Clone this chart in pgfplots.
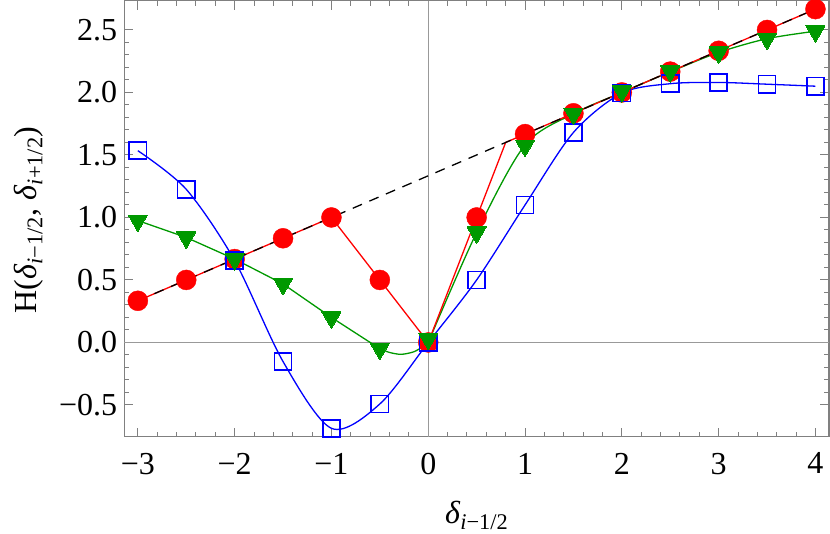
\documentclass[border=0pt]{standalone}
\usepackage{pgfplots}
\pgfplotsset{compat=1.18}
\usepackage[no-math]{fontspec}
\setmainfont{Liberation Serif}
\definecolor{mgreen}{rgb}{0,0.6,0}
\definecolor{framegray}{gray}{0.5}
\definecolor{axgray}{gray}{0.6}
\newcommand{\bigfont}{\fontsize{32bp}{38bp}\selectfont}
\begin{document}
\bigfont
\begin{tikzpicture}
\useasboundingbox (0,0) rectangle (830bp,534bp);
\begin{axis}[
  at={(124.3bp,97.3bp)}, anchor=south west,
  scale only axis, width=704.7bp, height=436bp,
  xmin=-3.14, xmax=4.14, ymin=-0.754, ymax=2.734,
  axis line style={framegray, line width=1.2bp},
  tick style={framegray, line width=1bp},
  major tick length=9bp, minor tick length=5bp,
  tick align=inside, tick pos=both, ticklabel pos=left,
  xtick={-3,-2,-1,0,1,2,3,4},
  xticklabels={−3,−2,−1,0,1,2,3,4},
  minor x tick num=4,
  ytick={-0.5,0,0.5,1,1.5,2,2.5},
  yticklabels={−0.5,0.0,0.5,1.0,1.5,2.0,2.5},
  minor y tick num=4,
  tick label style={font=\bigfont, text=black},
  xticklabel style={inner sep=0pt, anchor=north, yshift=-16bp},
  yticklabel style={inner sep=0pt, anchor=east, xshift=-7bp},
  /pgf/number format/assume math mode=true,
  clip=false,
]
\draw[axgray, line width=1.2bp] (axis cs:0,-0.754) -- (axis cs:0,2.734);
\draw[axgray, line width=1.2bp] (axis cs:-3.14,0) -- (axis cs:4.14,0);
% blue line
\addplot[blue, line width=1.3bp, smooth, mark=none] coordinates {
(-3,1.534) (-2.5,1.225) (-2,0.655) (-1.5,-0.153) (-1,-0.687) (-0.5,-0.492) (0,0)
(0.5,0.5) (1,1.10) (1.5,1.68) (2,1.995) (2.5,2.07) (3,2.08) (3.5,2.066) (4,2.05)};
% green line
\addplot[mgreen, line width=1.3bp, mark=none] coordinates {
(-3,0.975) (-2.5,0.84) (-2,0.667) (-1.5,0.468) (-1,0.2) (-0.5,-0.05)};
\addplot[mgreen, line width=1.3bp, smooth, mark=none] coordinates {
(-0.5,-0.05) (-0.4,-0.08) (-0.28,-0.095) (-0.15,-0.075) (-0.06,-0.035) (0,0)};
\addplot[mgreen, line width=1.3bp, smooth, mark=none] coordinates {
(0,0) (0.5,0.88) (1,1.58) (1.5,1.83) (2,2.0) (2.5,2.165) (3,2.32) (3.5,2.43) (4,2.49)};
% red line
\addplot[red, line width=1.3bp, mark=none] coordinates {
(-3,0.3333) (-1,1) (0,0) (0.8,1.6) (4,2.6667)};
% black dashed
\addplot[black, line width=1.3bp, dash pattern=on 10bp off 8bp, mark=none] coordinates {
(-3,0.3333) (4,2.6667)};
% markers
\addplot[only marks, mark=*, mark size=10bp, red, mark options={draw=red, fill=red}] coordinates {
(-3,0.3333) (-2.5,0.5) (-2,0.6667) (-1.5,0.8333) (-1,1) (-0.5,0.5) (0,0)
(0.5,1) (1,1.6667) (1.5,1.8333) (2,2) (2.5,2.1667) (3,2.3333) (3.5,2.5) (4,2.6667)};
\addplot[only marks, mark=square, mark size=8.6bp, blue, mark options={line width=1.6bp}] coordinates {
(-3,1.534) (-2.5,1.225) (-2,0.655) (-1.5,-0.153) (-1,-0.687) (-0.5,-0.492) (0,0)
(0.5,0.5) (1,1.10) (1.5,1.68) (2,1.995) (2.5,2.07) (3,2.08) (3.5,2.066) (4,2.05)};
\addplot[only marks, mark=triangle*, mark size=11bp, mgreen, mark options={rotate=180, draw=mgreen, fill=mgreen, line width=0pt}] coordinates {
(-3,0.975) (-2.5,0.84) (-2,0.667) (-1.5,0.468) (-1,0.2) (-0.5,-0.05) (0,0.03)
(0.5,0.88) (1,1.575) (1.5,1.83) (2,2.01) (2.5,2.17) (3,2.32) (3.5,2.43) (4,2.49)};
\end{axis}
\node[anchor=base, font=\bigfont] at (476.7bp,11bp) {\textit{δ}\textsubscript{\textit{i}−1/2}};
\node[anchor=base, rotate=90, font=\bigfont] at (36bp,314bp) {H(\textit{δ}\textsubscript{\textit{i}−1/2}, \textit{δ}\textsubscript{\textit{i}+1/2})};
\end{tikzpicture}
\end{document}
